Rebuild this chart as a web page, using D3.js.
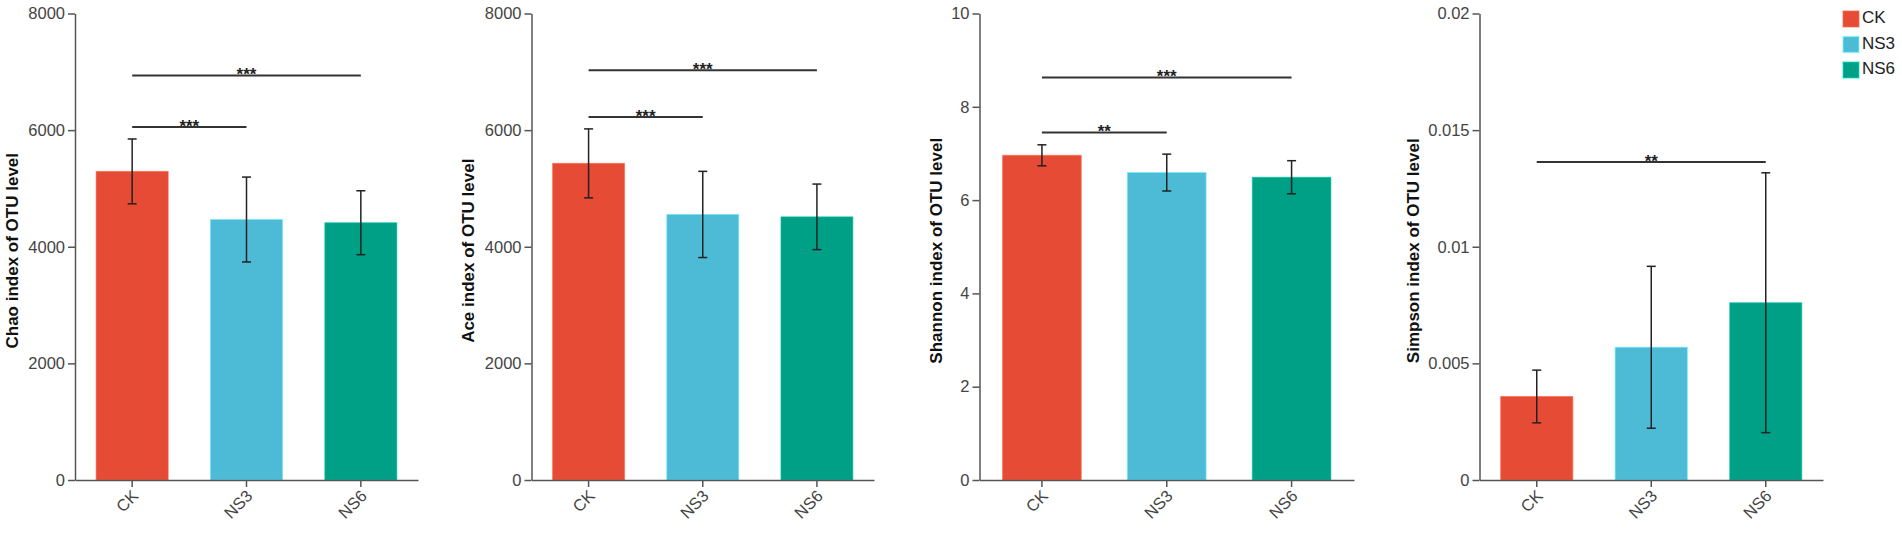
<!DOCTYPE html>
<html>
<head>
<meta charset="utf-8">
<script src="https://cdn.jsdelivr.net/npm/d3@7"></script>
<style>
  body { margin: 0; background: #fff; }
  svg { display: block; font-family: Arial, "Liberation Sans", sans-serif; }
</style>
</head>
<body>
<div id="chart"></div>
<script>
let groups = ["CK", "NS3", "NS6"]
let colors = ["#E64B35", "#4DBBD5", "#00A087"]

// mean and sd
let chaoMean = [5292, 4467, 4412]
let chaoSd = [556, 728, 548]
let aceMean = [5430, 4554, 4513]
let aceSd = [591, 739, 562]
let shannonMean = [6.96, 6.59, 6.49]
let shannonSd = [0.225, 0.395, 0.355]
let simpsonMean = [0.00358, 0.00569, 0.0076]
let simpsonSd = [0.00113, 0.00347, 0.00557]

let chaoTicks = [0, 2000, 4000, 6000, 8000]
let aceTicks = [0, 2000, 4000, 6000, 8000]
let shannonTicks = [0, 2, 4, 6, 8, 10]
let simpsonTicks = [0, 0.005, 0.01, 0.015, 0.02]

// significance brackets: from group, to group, level (data units), label
let chaoSig = [[0, 1, 6052, "***"], [0, 2, 6937, "***"]]
let aceSig = [[0, 1, 6223, "***"], [0, 2, 7028, "***"]]
let shannonSig = [[0, 1, 7.45, "**"], [0, 2, 8.63, "***"]]
let simpsonSig = [[0, 2, 0.01363, "**"]]

let panels = [
  {title: "Chao index of OTU level", mean: chaoMean, sd: chaoSd, ticks: chaoTicks, sig: chaoSig},
  {title: "Ace index of OTU level", mean: aceMean, sd: aceSd, ticks: aceTicks, sig: aceSig},
  {title: "Shannon index of OTU level", mean: shannonMean, sd: shannonSd, ticks: shannonTicks, sig: shannonSig},
  {title: "Simpson index of OTU level", mean: simpsonMean, sd: simpsonSd, ticks: simpsonTicks, sig: simpsonSig}
]

// layout of each panel on the page
let frames = [
  {x0: 75, x1: 418, lab: 61},
  {x0: 531.5, x1: 874, lab: 62},
  {x0: 979.5, x1: 1354, lab: 42},
  {x0: 1479.5, x1: 1823, lab: 65}
]
let plotTop = 13.5, plotBottom = 480

let svg = d3.select("#chart").append("svg")
    .attr("width", 1902)
    .attr("height", 537)

panels.forEach((p, i) => {
  let f = frames[i]
  let g = svg.append("g")

  let x = d3.scaleBand().domain(groups).range([f.x0, f.x1]).paddingInner(0.37).paddingOuter(0.185)
  let y = d3.scaleLinear().domain([0, d3.max(p.ticks)]).range([plotBottom, plotTop])

  g.selectAll("rect.bar")
    .data(groups)
    .join("rect")
      .attr("class", "bar")
      .attr("x", d => x(d))
      .attr("width", x.bandwidth())
      .attr("y", (d, j) => y(p.mean[j]))
      .attr("height", (d, j) => plotBottom - y(p.mean[j]))
      .attr("fill", (d, j) => colors[j])
      .attr("stroke", (d, j) => d3.color(colors[j]).brighter(0.6))
      .attr("stroke-opacity", 0.6)
      .attr("stroke-width", 1)

  let cx = d => x(d) + x.bandwidth() / 2
  let eb = g.selectAll("g.err")
    .data(groups)
    .join("g")
      .attr("class", "err")
      .attr("stroke", "#222")
      .attr("stroke-width", 1.5)
  eb.append("line")
    .attr("x1", cx).attr("x2", cx)
    .attr("y1", (d, j) => y(p.mean[j] + p.sd[j]))
    .attr("y2", (d, j) => y(p.mean[j] - p.sd[j]))
  eb.append("line")
    .attr("x1", d => cx(d) - 4.5).attr("x2", d => cx(d) + 4.5)
    .attr("y1", (d, j) => y(p.mean[j] + p.sd[j]))
    .attr("y2", (d, j) => y(p.mean[j] + p.sd[j]))
  eb.append("line")
    .attr("x1", d => cx(d) - 4.5).attr("x2", d => cx(d) + 4.5)
    .attr("y1", (d, j) => y(p.mean[j] - p.sd[j]))
    .attr("y2", (d, j) => y(p.mean[j] - p.sd[j]))

  // y axis
  let ya = g.append("g")
      .attr("transform", "translate(" + f.x0 + ",0)")
      .call(d3.axisLeft(y).tickValues(p.ticks).tickFormat(d => String(d)).tickSize(7).tickPadding(3).tickSizeOuter(0))
  ya.select(".domain").attr("stroke", "#555").attr("stroke-width", 1.5)
  ya.selectAll(".tick line").attr("stroke", "#555").attr("stroke-width", 1.5)
  ya.selectAll(".tick text").attr("fill", "#444").style("font-size", "16.5px")

  // x axis
  let xa = g.append("g")
      .attr("transform", "translate(0," + plotBottom + ")")
      .call(d3.axisBottom(x).tickSize(7).tickSizeOuter(0))
  xa.select(".domain").attr("stroke", "#555").attr("stroke-width", 1.5)
  xa.selectAll(".tick line").attr("stroke", "#555").attr("stroke-width", 1.5)
  xa.selectAll(".tick text")
      .attr("fill", "#444")
      .style("font-size", "16.5px")
      .attr("text-anchor", "end")
      .attr("dy", null)
      .attr("y", 0)
      .attr("transform", "translate(4,14) rotate(-45)")
      .attr("dominant-baseline", "middle")

  g.append("text")
      .attr("transform", "translate(" + (f.x0 - f.lab) + "," + ((plotTop + plotBottom) / 2 + 4) + ") rotate(-90)")
      .attr("text-anchor", "middle")
      .attr("dominant-baseline", "middle")
      .style("font-size", "17px")
      .style("font-weight", "bold")
      .attr("fill", "#111")
      .text(p.title)

  // significance brackets
  p.sig.forEach(s => {
    let a = cx(groups[s[0]]), b = cx(groups[s[1]]), ly = y(s[2])
    g.append("line")
      .attr("x1", a).attr("x2", b)
      .attr("y1", ly).attr("y2", ly)
      .attr("stroke", "#333")
      .attr("stroke-width", 2)
    g.append("text")
      .attr("x", (a + b) / 2)
      .attr("y", ly + 5)
      .attr("text-anchor", "middle")
      .style("font-size", "17px")
      .style("font-weight", "bold")
      .attr("fill", "#222")
      .text(s[3])
  })
})

// legend
let legend = svg.append("g").attr("transform", "translate(1843,11)")
let items = legend.selectAll("g")
  .data(groups)
  .join("g")
    .attr("transform", (d, i) => "translate(0," + (i * 25.5) + ")")
items.append("rect")
    .attr("width", 16).attr("height", 16)
    .attr("fill", (d, i) => colors[i])
    .attr("stroke", (d, i) => d3.color(colors[i]).brighter(1))
    .attr("stroke-opacity", 0.5)
    .attr("stroke-width", 1.5)
items.append("text")
    .attr("x", 19)
    .attr("y", 8)
    .attr("dominant-baseline", "middle")
    .style("font-size", "17px")
    .attr("fill", "#222")
    .text(d => d)
</script>
</body>
</html>
